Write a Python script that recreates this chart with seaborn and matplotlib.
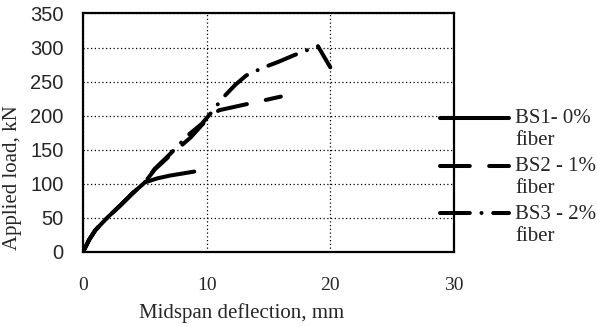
import matplotlib
matplotlib.use("Agg")
import matplotlib.pyplot as plt
from matplotlib.lines import Line2D
from matplotlib.legend_handler import HandlerLine2D
import numpy as np
import seaborn as sns
import pandas as pd

# load-deflection readings (deflection in mm, load in kN)
bs1_defl = [0, 0.5, 1, 2, 3, 4, 5, 6, 7, 8, 9]
bs1_load = [0, 18, 32, 51, 68, 86, 102, 108, 112, 115, 118]

bs2_defl = [0, 0.5, 1, 2, 3, 4, 5, 5.8, 7, 8.7, 9.6, 10.3, 11, 12, 13, 14.5, 16]
bs2_load = [0, 18, 32, 51, 68, 86, 102, 121, 141, 168, 186, 199, 208, 212, 216, 222, 228]

bs3_defl = [0, 0.5, 1, 2, 3, 4, 5, 5.8, 7, 8.6, 9.6, 10.4, 11.3, 12.3, 13.2, 14.5, 15.8, 17.1, 18.4, 19.0, 20.0]
bs3_load = [0, 18, 32, 51, 68, 86, 102, 122, 143, 173, 188, 205, 226, 245, 259, 270, 279, 289, 298, 302, 271]

labels = ["BS1- 0%\nfiber", "BS2 - 1%\nfiber", "BS3 - 2%\nfiber"]

df = pd.concat([
    pd.DataFrame({"defl": bs1_defl, "load": bs1_load, "beam": labels[0]}),
    pd.DataFrame({"defl": bs2_defl, "load": bs2_load, "beam": labels[1]}),
    pd.DataFrame({"defl": bs3_defl, "load": bs3_load, "beam": labels[2]}),
])


class FirstLineHandler(HandlerLine2D):
    # put the legend line level with the first line of a two-line label
    def create_artists(self, legend, orig_handle, xdescent, ydescent,
                       width, height, fontsize, trans):
        artists = super().create_artists(legend, orig_handle, xdescent, ydescent,
                                         width, height, fontsize, trans)
        for a in artists:
            a.set_ydata(np.asarray(a.get_ydata()) + 0.55 * fontsize)
        return artists


sns.set_style("white")
serif = ["Liberation Serif", "DejaVu Serif"]

fig = plt.figure(figsize=(5.97, 3.27), dpi=100)
ax = fig.add_axes([0.139, 0.2294, 0.6214, 0.7294])

dash_map = {labels[0]: "", labels[1]: (7.4, 4.8), labels[2]: (7.4, 2.9, 0.01, 2.9)}
sns.lineplot(data=df, x="defl", y="load", style="beam", dashes=dash_map,
             color="black", linewidth=2.9, sort=False, estimator=None,
             legend=False, ax=ax)
for ln in ax.lines:
    ln.set_dash_capstyle("round")
    ln.set_solid_capstyle("round")
    ln.set_solid_joinstyle("round")

ax.set_xlim(0, 30)
ax.set_ylim(0, 350)
ax.set_xticks([0, 10, 20, 30])
ax.set_yticks(range(0, 351, 50))
ax.grid(True, color="black", linestyle=(0, (1, 2)), linewidth=0.9)
for s in ax.spines.values():
    s.set_color("black")
    s.set_linewidth(1.6)
    s.set_zorder(3)

ax.tick_params(axis="both", length=0)
ax.tick_params(axis="y", pad=14)
ax.tick_params(axis="x", pad=18)
for t in ax.get_yticklabels():
    t.set_fontfamily(["Liberation Sans", "DejaVu Sans"])
    t.set_fontsize(14.5)
for t in ax.get_xticklabels():
    t.set_fontfamily(serif)
    t.set_fontsize(14)

ax.set_xlabel("Midspan deflection, mm", family=serif, fontsize=15)
ax.set_ylabel("Applied load, kN", family=serif, fontsize=15)
ax.xaxis.set_label_coords(0.427, -0.213)
ax.yaxis.set_label_coords(-0.165, 0.31)

leg = ax.legend(handles=ax.lines, labels=labels, loc="upper left",
                bbox_to_anchor=(440 / 597, 1 - 109 / 327), bbox_transform=fig.transFigure,
                frameon=False, prop={"family": serif, "size": 15},
                handlelength=3.3, handletextpad=0.3,
                labelspacing=0.34, borderpad=0, borderaxespad=0,
                handler_map={Line2D: FirstLineHandler()})

fig.savefig("out.png", dpi=100)
